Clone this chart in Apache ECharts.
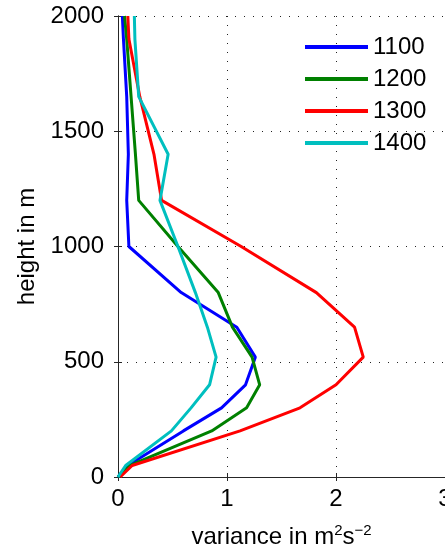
<!DOCTYPE html>
<html><head><meta charset="utf-8">
<script src="https://cdn.jsdelivr.net/npm/echarts@6/dist/echarts.min.js"></script>
<style>html,body{margin:0;padding:0;background:#fff}#c{width:445px;height:551px}</style>
</head><body><div id="c"></div>
<script>
const heights = [0, 50, 200, 300, 400, 520, 650, 800, 1000, 1200, 1400, 1650, 1900, 2000];
const v1100 = [0, 0.09, 0.60, 0.95, 1.17, 1.26, 1.09, 0.58, 0.10, 0.08, 0.095, 0.08, 0.05, 0.04];
const v1200 = [0, 0.11, 0.86, 1.18, 1.30, 1.23, 1.05, 0.92, 0.55, 0.19, 0.16, 0.12, 0.08, 0.06];
const v1300 = [0.02, 0.13, 1.12, 1.67, 2.00, 2.25, 2.17, 1.82, 1.13, 0.40, 0.33, 0.20, 0.10, 0.09];
const v1400 = [0, 0.07, 0.49, 0.67, 0.84, 0.90, 0.82, 0.71, 0.55, 0.385, 0.46, 0.19, 0.155, 0.15];
const seriesNames = ['1100', '1200', '1300', '1400'];
const seriesValues = [v1100, v1200, v1300, v1400];
const colors = ['#0000ff', '#008000', '#ff0000', '#00bfbf'];
const xTicks = [0, 1, 2, 3];
const yTicks = [0, 500, 1000, 1500, 2000];

const FONT = 'Liberation Sans, Arial, sans-serif';
const chart = echarts.init(document.getElementById('c'), null, {renderer: 'canvas'});
const gridLine = {show: true, lineStyle: {color: '#222', type: [1, 8], width: 1}};
const axisLine = {show: true, lineStyle: {color: '#262626', width: 1}};
const ticks = {show: true, inside: false, length: 4, lineStyle: {color: '#262626'}};
chart.setOption({
  animation: false,
  grid: {left: 118, top: 16, right: 0, bottom: 74, containLabel: false, outerBoundsMode: 'none'},
  legend: {
    orient: 'vertical', left: 300, top: 30, itemWidth: 63, itemHeight: 4, itemGap: 8,
    icon: 'rect',
    textStyle: {fontFamily: FONT, fontSize: 24, color: '#000', lineHeight: 24},
    data: seriesNames
  },
  xAxis: [{
    type: 'value', min: xTicks[0], max: xTicks[xTicks.length - 1], interval: 1,
    axisLine: axisLine, axisTick: ticks, splitLine: gridLine,
    axisLabel: {fontFamily: FONT, fontSize: 24, color: '#000', margin: 10, showMaxLabel: true, showMinLabel: true},
    name: '{n|variance in m}{s|2}{n|s}{s|\u22122}',
    nameLocation: 'middle', nameGap: 46,
    nameTextStyle: {
      fontFamily: FONT, color: '#000',
      rich: {
        n: {fontFamily: FONT, fontSize: 24, color: '#000', lineHeight: 28},
        s: {fontFamily: FONT, fontSize: 15, color: '#000', lineHeight: 15, verticalAlign: 'top'}
      }
    }
  }, {
    type: 'value', position: 'top', min: 0, max: 3, interval: 1,
    axisLine: axisLine, axisTick: ticks, axisLabel: {show: false}, splitLine: {show: false}
  }],
  yAxis: [{
    type: 'value', min: yTicks[0], max: yTicks[yTicks.length - 1], interval: 500,
    axisLine: axisLine, axisTick: ticks, splitLine: gridLine,
    axisLabel: {fontFamily: FONT, fontSize: 24, color: '#000', margin: 14, formatter: v => String(v)},
    name: 'height in m', nameLocation: 'middle', nameGap: 76,
    nameTextStyle: {fontFamily: FONT, fontSize: 24, color: '#000'}
  }, {
    type: 'value', position: 'right', min: 0, max: 2000, interval: 500,
    axisLine: axisLine, axisTick: ticks, axisLabel: {show: false}, splitLine: {show: false}
  }],
  series: seriesNames.map((n, i) => ({
    name: n, type: 'line', symbol: 'none', smooth: false, clip: false,
    xAxisIndex: 0, yAxisIndex: 0,
    lineStyle: {color: colors[i], width: 3},
    itemStyle: {color: colors[i]},
    data: seriesValues[i].map((v, k) => [v, heights[k]])
  }))
});
</script></body></html>
